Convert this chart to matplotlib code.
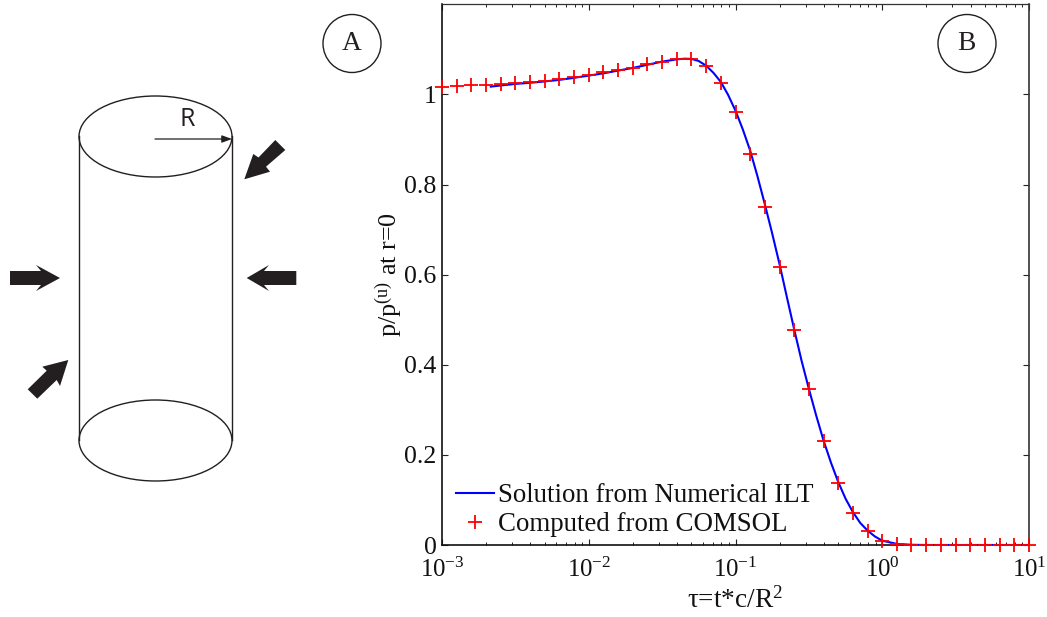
import matplotlib
matplotlib.use("Agg")
import matplotlib.pyplot as plt
from matplotlib.patches import Ellipse, Polygon, Circle
from matplotlib.ticker import LogLocator, NullFormatter, FixedLocator

# ---- data ----
line_tau = [0.00215, 0.00251, 0.00316, 0.00398, 0.00501, 0.00631, 0.00794, 0.01, 0.0126, 0.0158,
            0.02, 0.0251, 0.0316, 0.0398, 0.045, 0.0501, 0.056, 0.0631, 0.0708, 0.0794, 0.0891, 0.1,
            0.112, 0.126, 0.141, 0.158, 0.178, 0.2, 0.224, 0.251, 0.282, 0.316, 0.355, 0.398,
            0.447, 0.501, 0.562, 0.631, 0.708, 0.794, 0.891, 1.0, 1.26, 1.58, 2.0, 3.16, 5.01, 10.0]
line_p = [1.0175, 1.0200, 1.0235, 1.0260, 1.0290, 1.0325, 1.0370, 1.0420, 1.0470, 1.0530,
          1.0590, 1.0660, 1.0730, 1.0780, 1.0795, 1.0790, 1.0745, 1.0640, 1.0480, 1.0280, 0.9990, 0.9640,
          0.9230, 0.8750, 0.8190, 0.7580, 0.6910, 0.6220, 0.5500, 0.4790, 0.4090, 0.3470,
          0.2870, 0.2320, 0.1830, 0.1400, 0.1030, 0.0730, 0.0490, 0.0320, 0.0190, 0.0095,
          0.0025, 0.0005, 0.0, 0.0, 0.0, 0.0]

marker_tau = [0.001, 0.00126, 0.00158, 0.002, 0.00251, 0.00316, 0.00398, 0.00501, 0.00631, 0.00794,
              0.01, 0.0126, 0.0158, 0.02, 0.0251, 0.0316, 0.0398, 0.0501, 0.0631, 0.0794,
              0.1, 0.126, 0.158, 0.2, 0.251, 0.316, 0.398, 0.501, 0.631, 0.794,
              1.0, 1.26, 1.58, 2.0, 2.51, 3.16, 3.98, 5.01, 6.31, 7.94, 10.0]
marker_p = [1.017, 1.0185, 1.020, 1.022, 1.023, 1.0259, 1.028, 1.031, 1.034, 1.0385,
            1.043, 1.049, 1.054, 1.059, 1.067, 1.073, 1.079, 1.078, 1.0622, 1.026,
            0.961, 0.867, 0.750, 0.616, 0.477, 0.346, 0.230, 0.138, 0.0716, 0.0317,
            0.0095, 0.002, 0.0005, 0, 0, 0, 0, 0, 0, 0, 0]

y_ticks = [0, 0.2, 0.4, 0.6, 0.8, 1]
y_tick_labels = ["0", "0.2", "0.4", "0.6", "0.8", "1"]
x_ticks = [1e-3, 1e-2, 1e-1, 1e0, 1e1]
x_tick_labels = ["$\\mathregular{10^{-3}}$", "$\\mathregular{10^{-2}}$", "$\\mathregular{10^{-1}}$",
                 "$\\mathregular{10^{0}}$", "$\\mathregular{10^{1}}$"]
series_names = ["Solution from Numerical ILT", "Computed from COMSOL"]
x_title = "\u03c4=t*c/R$^{\\mathregular{2}}$"
y_title = "p/p$^{\\mathregular{(u)}}$ at r=0"

# ---- figure ----
plt.rcParams["font.family"] = ["Liberation Serif", "DejaVu Serif"]
plt.rcParams["mathtext.fontset"] = "custom"
plt.rcParams["mathtext.rm"] = "Liberation Serif"
plt.rcParams["mathtext.default"] = "regular"
W, H = 1047, 617
FS = 18.6
fig = plt.figure(figsize=(W / 100, H / 100), dpi=100, facecolor="white")

# schematic overlay in pixel coordinates
ov = fig.add_axes([0, 0, 1, 1], zorder=3)
ov.set_xlim(0, W)
ov.set_ylim(H, 0)
ov.axis("off")
ov.patch.set_alpha(0)

ink = "#231f20"
for cy in (136.5, 440.5):
    ov.add_patch(Ellipse((155.5, cy), 153, 81, fill=False, ec=ink, lw=1.0))
ov.plot([79, 79], [136, 440], color=ink, lw=1.0)
ov.plot([232, 232], [136, 440], color=ink, lw=1.0)
ov.annotate("", xy=(232, 139), xytext=(155, 139),
            arrowprops=dict(arrowstyle="-|>,head_length=0.6,head_width=0.22", color=ink, lw=0.9,
                            shrinkA=0, shrinkB=0))
ov.text(187.5, 119.5, "R", family="Open Sans", fontsize=18, color=ink, ha="center", va="center")

block_arrows = [
    [(10, 271), (41, 271), (36, 265), (60, 278), (36, 291), (41, 285), (10, 285)],
    [(296.3, 271), (264, 271), (269, 265), (246.7, 278), (269, 291), (264, 285), (296.3, 285)],
    [(275.3, 140), (285.3, 150), (266, 166.7), (270, 171.7), (244.3, 179.3), (253.3, 154), (258.5, 157.5)],
    [(27.7, 389.3), (37.3, 398.7), (56.7, 380), (60, 386), (68.3, 360), (42.3, 366.7), (46.7, 370.7)],
]
for pts in block_arrows:
    ov.add_patch(Polygon(pts, closed=True, fc=ink, ec="none"))

for cx, letter in ((352, "A"), (967, "B")):
    ov.add_patch(Circle((cx, 43.5), 29, fill=False, ec=ink, lw=1.0))
    ov.text(cx - 0.5, 43.5, letter, fontsize=19.8, color=ink, ha="center", va="center")

# main axes
left, right, top, bottom = 442, 1029, 4.4, 545
ax = fig.add_axes([left / W, 1 - bottom / H, (right - left) / W, (bottom - top) / H])
ax.set_xscale("log")
ax.set_xlim(1e-3, 10)
ax.set_ylim(0, 1.2)
ax.plot(line_tau, line_p, color="#0000ff", lw=1.5, label=series_names[0], zorder=3)
ax.plot(marker_tau, marker_p, ls="none", marker="+", ms=9.5, mew=1.3, color="#ff0000",
        label=series_names[1], clip_on=False, zorder=4)

ax.set_yticks(y_ticks)
ax.set_yticklabels(y_tick_labels)
ax.xaxis.set_major_locator(FixedLocator(x_ticks))
ax.set_xticklabels(x_tick_labels)
ax.xaxis.set_minor_locator(LogLocator(base=10, subs=range(2, 10), numticks=12))
ax.xaxis.set_minor_formatter(NullFormatter())
ax.tick_params(axis="both", which="major", direction="in", top=True, right=True,
               length=4, width=0.8, labelsize=FS, color="#222222", labelcolor="#111111")
ax.tick_params(axis="x", which="minor", direction="in", top=True, length=2, width=0.7, color="#222222")
ax.tick_params(axis="x", which="major", pad=9, labelsize=17.8)
ax.tick_params(axis="y", which="major", pad=4)
for side, sp in ax.spines.items():
    sp.set_linewidth(1.2)
    sp.set_color("#111111" if side in ("left", "bottom") else "#333333")
ax.spines["top"].set_linewidth(0.9)

ov.text(735, 600, x_title, fontsize=19.6, ha="center", va="center", color="#111111")
ov.text(389, 275, y_title, fontsize=18.8, ha="center", va="center", rotation=90, color="#111111")

leg = ax.legend(loc="lower left", bbox_to_anchor=(0.0155, 0.004), frameon=False, fontsize=19.4,
                handlelength=1.39, handletextpad=0.15, labelspacing=0.16, borderpad=0.2, borderaxespad=0)
for t in leg.get_texts():
    t.set_color("#111111")

fig.savefig("out.png", dpi=100, facecolor="white")
